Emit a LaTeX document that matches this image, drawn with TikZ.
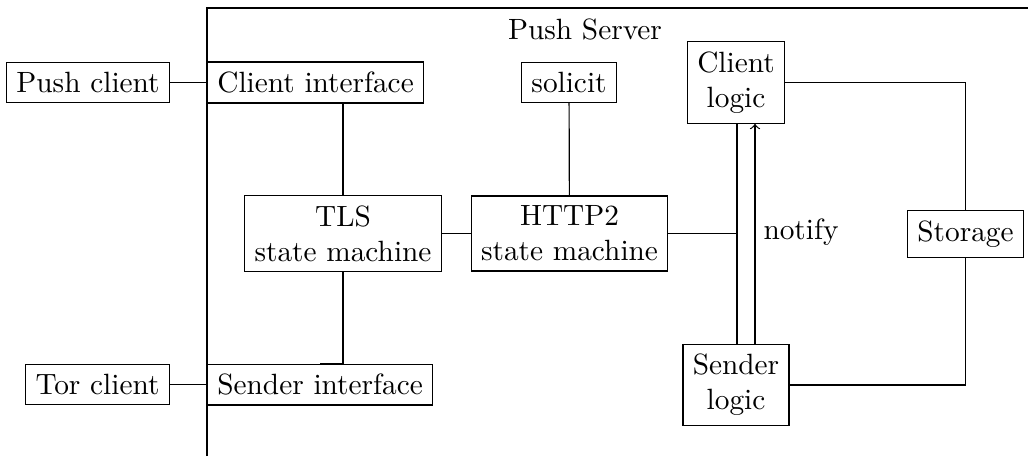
\documentclass[tikz,border=0pt]{standalone}
\begin{document}
\begin{tikzpicture}[x=0.341pt,y=-0.341pt,
  box/.style={draw,align=center,inner sep=3.33pt}]
\useasboundingbox (0,0) rectangle (1028,456);
% Push Server frame (only left and top edges are visible)
\coordinate (sbl) at (207,456);
\coordinate (stl) at (207,8);
\coordinate (str) at (1028,8);
\draw (sbl) -- (stl) -- (str);
\node (title) at (585,29) {Push Server};
% nodes
\node[box] (pushc) at (88,82.5) {Push client};
\node[box,anchor=west] (clienti) at (207,82.5) {Client interface};
\node[box] (torc) at (97.5,384.5) {Tor client};
\node[box,anchor=west] (sendi) at (207,384.5) {Sender interface};
\node[box] (tls) at (343,233.5) {TLS\\state machine};
\node[box] (http2) at (569.5,233.5) {HTTP2\\state machine};
\node[box] (solicit) at (569,82.5) {solicit};
\node[box] (clogic) at (736,82.5) {Client\\logic};
\node[box] (slogic) at (736,385) {Sender\\logic};
\node[box] (storage) at (965.5,234) {Storage};
\node (notify) at (801,232) {notify};
% helper x positions for the two vertical links
\coordinate (xa) at (737,0);
\coordinate (xb) at (755,0);
% connectors
\draw (pushc) -- (clienti);
\draw (torc) -- (sendi);
\draw (clienti.south) -| (tls.north);
\draw (sendi.north) -| (tls.south);
\draw (tls) -- (http2);
\draw (solicit) -- (http2);
\draw (http2.east) -- (http2.east -| xa);
\draw (clogic.south -| xa) -- (slogic.north -| xa);
\draw[->] (slogic.north -| xb) -- (clogic.south -| xb);
\draw (clogic.east) -| (storage.north);
\draw (slogic.east) -| (storage.south);
\end{tikzpicture}
\end{document}
